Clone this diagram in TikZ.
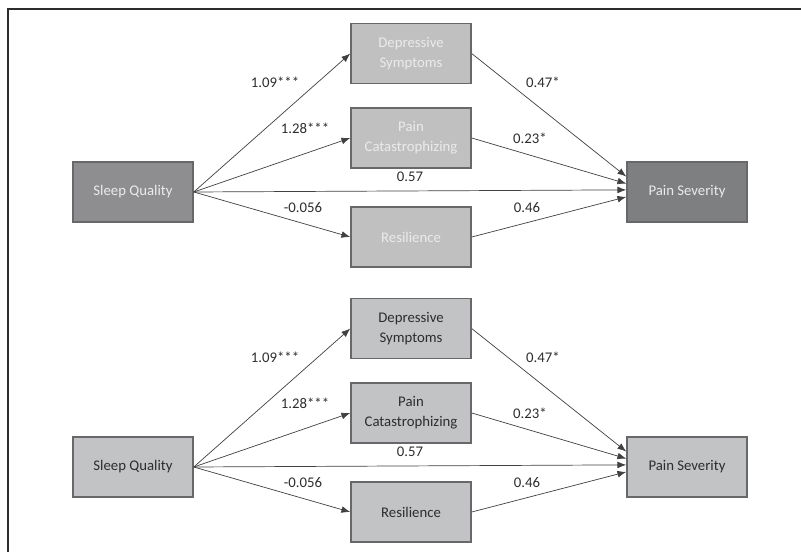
\documentclass[tikz,border=0pt]{standalone}
\usepackage{fontspec}
\setmainfont{Carlito}
\usetikzlibrary{arrows.meta}
\definecolor{sqdark}{RGB}{142,142,144}
\definecolor{psdark}{RGB}{126,127,129}
\definecolor{medgrey}{RGB}{192,192,193}
\definecolor{palegrey}{RGB}{194,195,197}
\definecolor{rimgrey}{RGB}{104,104,106}
\definecolor{inkgrey}{RGB}{45,45,45}
\tikzset{
  varbox/.style={draw=rimgrey, line width=1.1pt, minimum width=3cm,
    minimum height=1.5cm, align=center,
    font=\fontsize{10.5}{14}\selectfont},
  darkbox/.style={varbox, text=white!92!black},
  lightbox/.style={varbox, fill=palegrey, text=inkgrey},
  effect/.style={-{Latex[length=2.2mm,width=1.7mm]}, draw=black!75,
    line width=0.5pt},
  coef/.style={font=\fontsize{10.5}{13}\selectfont, text=inkgrey}
}

\begin{document}
\begin{tikzpicture}
        \useasboundingbox (0,0) rectangle (20.025,13.8);
        % Frame
        \draw[inkgrey, line width=1.3pt] (0.2,0) -- (0.2,13.575) -- (20.025,13.575);
        % Upper model
        \node[darkbox, fill=sqdark] (sqa) at (3.325,9.0) {Sleep Quality};
        \node[darkbox, fill=psdark] (psa) at (17.175,9.0) {Pain Severity};
        \node[darkbox, fill=medgrey] (depa) at (10.275,12.46) {Depressive\\Symptoms};
        \node[darkbox, fill=medgrey] (cata) at (10.275,10.35) {Pain\\Catastrophizing};
        \node[darkbox, fill=medgrey] (resa) at (10.275,7.875) {Resilience};
        \draw[effect] (sqa.east) -- (depa.west);
        \draw[effect] (sqa.east) -- (cata.west);
        \draw[effect] (sqa.east) -- (resa.west);
        \draw[effect] (sqa.east) -- ([yshift=1.5pt]psa.west);
        \draw[effect] (depa.east) -- ([yshift=11pt]psa.west);
        \draw[effect] (cata.east) -- ([yshift=6pt]psa.west);
        \draw[effect] (resa.east) -- ([yshift=-3.5pt]psa.west);
        \node[coef] (adepa) at (6.875,11.75) {1.09***};
        \node[coef] (acata) at (7.625,10.6) {1.28***};
        \node[coef] (aresa) at (7.575,8.6) {-0.056};
        \node[coef] (cpra) at (10.25,9.375) {0.57};
        \node[coef] (bdepa) at (13.575,11.75) {0.47*};
        \node[coef] (bcata) at (13.25,10.35) {0.23*};
        \node[coef] (bresa) at (13.175,8.6) {0.46};
        % Lower model
        \node[lightbox] (sqb) at (3.325,2.125) {Sleep Quality};
        \node[lightbox] (psb) at (17.175,2.125) {Pain Severity};
        \node[lightbox] (depb) at (10.275,5.585) {Depressive\\Symptoms};
        \node[lightbox] (catb) at (10.275,3.475) {Pain\\Catastrophizing};
        \node[lightbox] (resb) at (10.275,1.0) {Resilience};
        \draw[effect] (sqb.east) -- (depb.west);
        \draw[effect] (sqb.east) -- (catb.west);
        \draw[effect] (sqb.east) -- (resb.west);
        \draw[effect] (sqb.east) -- ([yshift=1.5pt]psb.west);
        \draw[effect] (depb.east) -- ([yshift=11pt]psb.west);
        \draw[effect] (catb.east) -- ([yshift=6pt]psb.west);
        \draw[effect] (resb.east) -- ([yshift=-3.5pt]psb.west);
        \node[coef] (adepb) at (6.875,4.875) {1.09***};
        \node[coef] (acatb) at (7.625,3.725) {1.28***};
        \node[coef] (aresb) at (7.575,1.725) {-0.056};
        \node[coef] (cprb) at (10.25,2.5) {0.57};
        \node[coef] (bdepb) at (13.575,4.875) {0.47*};
        \node[coef] (bcatb) at (13.25,3.475) {0.23*};
        \node[coef] (bresb) at (13.175,1.725) {0.46};
\end{tikzpicture}
\end{document}
